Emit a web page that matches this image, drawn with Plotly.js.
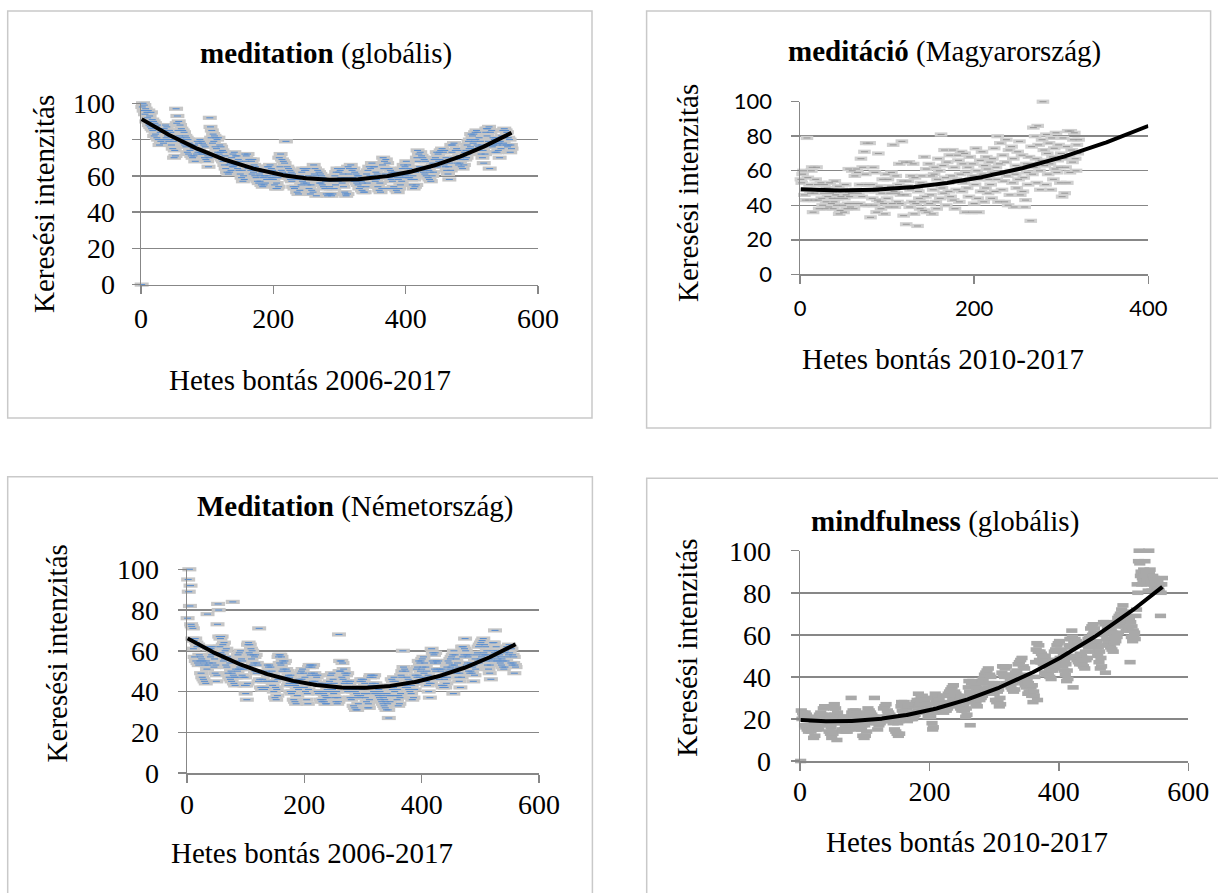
<!DOCTYPE html>
<html>
<head>
<meta charset="utf-8">
<script src="https://cdn.plot.ly/plotly-3.0.1.min.js"></script>
<style>
html,body{margin:0;padding:0;background:#ffffff;}
#chart{width:1218px;height:893px;}
</style>
</head>
<body>
<div id="chart"></div>
<script>
// ---------------- DATA (weekly search intensity, week index = position + 1) ----------------
const meditationGlobal = [
0,98,100,96,99,94,97,90,95,92, 96,88,93,87,95,86,91,85, 90,82,89,83,87,81,88,80, 86,77,84,79,85,80,84,78,
86,80,88,81,87,82,85,79, 85,80,84,77,82,75, 79,70,74,71,
97,89,93,85,90,82,88,81, 86,80,85,78,84,77,82,76, 81,73,80,72,78,74,77,71, 76,70,75,71,77,68,75,72,
79,73,78,74,80,73,79,72, 78,72,77,70,76,69,73,68, 71,65,70,92,
87,81,85,78,83,79,82,76, 81,75,80,73,81,72,77,73, 76,69,74,68,73,66,71,64, 69,62,68,61,66,62,67,63,
70,65,72,65,73,66,71,66, 71,64,69,63,68,61, 66,59,63,57,60,58,
72,68,71,65,72,64,69,65, 69,63,68,61,69,62,66,60, 65,59,64,57,64,56,61,57, 60,55,62,54,59,55,60,56,
63,58,65,60,65,58,66,59, 64,59,63,58,62,55, 60,53,56,53,59,54,
70,65,72,63,69,62,68,61, 67,60,79,61,65,60,64,59, 63,58,62,57,61,54,60,53, 58,54,59,51,58,50,59,52,
60,55,62,57,64,56,63,59, 63,56,64,55,60,53, 58,50,55,52,59,51,
66,61,64,60,49,58,63,58, 62,56,61,56,60,55,59,54, 58,53,57,50,58,49,57,50, 54,50,53,49,57,50,58,53,
60,55,62,57,64,57,62,58, 63,59,64,56,61,54, 59,51,50,49,58,50,
65,61,64,59,66,58,63,59, 64,57,62,57,61,56,60,55, 60,53,58,54,57,52,56,51, 58,51,59,54,61,56,63,58,
65,60,64,59,67,60,65,58, 65,57,62,58,61,54, 59,52,56,51,60,53,
66,70,64,68,61,69,60,67, 59,53,64,59,63,58,62,57, 61,54,62,53,60,52,59,51, 58,53,60,55,62,57,64,59,
66,61,65,60,68,61,66,59, 64,59,63,58,62,55, 60,53,58,54,62,55,
70,74,68,72,65,73,64,71, 63,70,62,69,61,68,60,65, 64,59,63,58,62,57,65,60, 67,62,69,65,70,66,73,65,
72,68,73,69,74,67,75,68, 73,66,74,65,70,63, 68,61,65,58,67,63,
77,73,77,70,78,69,74,70, 75,67,74,66,71,67,70,65, 69,64,71,66,73,69,74,70, 77,72,79,75,80,76,83,75,
82,78,83,79,84,80,85,77, 84,76,81,74,79,72, 77,70,74,67,76,72,
84,86,82,86,79,87,64,84, 77,85,76,81,77,80,73,81, 78,73,77,74,78,70,79,75, 82,77,85,78,86,81,85,77,
84,76,81,77,80,73,77,75
];

const meditacioHungary = [
55,53,58,60,46,43,49,79,56,43,52,47,60,62,36,43,47,55,62,52,
43,38,48,53,44,40,47,52,38,42,50,45,39,53,47,41,44,38,42,54,
46,40,44,51,35,37,45,49,40,36,44,52,46,38,41,61,45,39,47,60,
41,38,57,49,61,59,47,41,52,67,45,62,40,71,58,76,52,48,40,76,
33,52,44,62,40,59,48,36,43,70,51,42,38,47,55,41,35,49,58,44,
55,39,47,51,59,41,75,48,39,57,47,42,52,64,41,46,77,54,34,65,
46,29,51,54,65,39,49,57,42,64,35,56,41,50,28,48,44,38,53,57,
42,37,68,45,61,36,52,64,41,46,57,35,49,58,62,42,38,55,67,60,
44,81,50,63,47,72,56,40,65,53,48,69,45,57,72,43,62,38,55,49,
69,66,42,58,71,48,64,53,70,36,59,50,62,45,68,55,36,64,57,41,
52,73,60,44,36,55,66,48,71,58,42,63,50,68,61,47,55,65,52,44,
67,59,73,48,62,55,80,42,64,76,58,49,69,54,42,65,78,57,40,72,
46,60,74,53,67,39,58,63,50,71,55,77,46,61,69,48,56,39,43,64,
59,52,68,64,31,74,58,85,62,80,67,53,86,75,60,49,66,78,100,72,
63,52,81,70,58,76,64,49,79,68,55,73,61,82,59,66,75,62,53,70,
45,79,67,47,62,74,53,83,69,59,83,72,65,78,82,67,60,75,70,78
];

const meditationGermany = [
76,95,89,100,82,92,73,72, 66,71,61,65,57,66,55,64, 62,54,63,53,58,55,57,49, 56,47,55,46,54,45,53,44,
55,51,78,53,61,54,62,57, 61,58,62,54,59,52,56,49, 53,45,48,73,
83,80,67,62,66,59,67,58, 63,55,64,56,60,53,61,52, 57,49,56,47,54,46,50,45, 49,84,48,44,47,43,51,47,
55,50,58,51,59,52,60,51, 56,48,55,47,51,43,47,39, 43,36,44,63,
64,59,63,58,61,56,60,53, 58,54,57,50,58,49,54,50, 53,45,71,46,50,42,49,41, 46,42,45,41,49,42,50,45,
53,48,52,49,53,48,52,45, 50,43,48,40,45,37, 42,36,41,38,46,57,
58,54,58,53,57,50,55,51, 54,47,55,46,51,47,50,43, 48,44,47,40,48,39,44,40, 43,36,44,35,43,34,42,38,
45,41,46,42,49,45,50,46, 51,44,49,42,47,40, 44,36,39,34,41,52,
53,48,53,49,52,45,53,44, 49,45,48,44,47,40,48,39, 44,40,43,36,44,35,40,36, 39,35,38,34,37,34,41,37,
44,40,45,41,48,40,49,41, 46,39,44,37,42,35, 40,34,37,35,68,50,
55,50,55,47,54,46,51,44, 49,45,48,41,49,40,45,41, 44,37,45,36,41,37,40,33, 41,32,40,31,39,31,38,34,
42,37,45,38,46,41,45,42, 46,39,44,37,42,35, 39,32,34,32,36,47,
48,43,48,44,47,40,48,39, 44,40,43,39,42,38,41,37, 40,36,39,35,38,34,37,33, 36,32,35,31,39,34,31,27,
38,35,43,38,46,41,45,42, 47,40,45,38,43,36, 41,33,38,34,37,39,
48,47,50,60,52,43,51,42, 50,43,47,42,46,41,45,40, 44,39,43,36,44,37,45,41, 48,44,51,47,52,48,55,47,
54,50,55,51,56,52,57,49, 54,47,52,45,50,43, 48,40,44,37,47,44,
61,55,59,54,58,51,59,50, 55,51,54,47,55,46,51,47, 50,43,51,42,47,43,46,42, 49,44,52,47,55,50,54,51,
56,52,57,53,58,39,60,53, 58,51,56,49,54,47, 52,45,49,42,51,47,
62,57,62,58,61,66,60,53, 58,54,57,50,58,49,54,50, 53,49,52,45,53,48,56,51, 58,54,59,55,62,54,63,56,
64,57,65,58,66,59,63,58, 62,55,60,53,58,51, 56,49,53,46,56,55,
64,60,64,59,70,57,62,55, 60,56,59,55,58,54,57,53, 56,52,55,51,59,52,60,55, 62,57,61,58,63,59,62,54,
61,53,58,54,57,49,53,52
];

const mindfulnessGlobal = [
0,24,20,23,21,22,17,23, 16,22,15,21,14,20,15,17, 14,16,15,17,11,18,12,17, 15,18,16,21,15,22,17,23,
20,22,19,25,20,26,19,22, 17,20,18,19,14,20,13,16, 11,14,13,25,
27,22,25,20,10,23,18,21, 19,20,18,21,15,20,14,21, 15,17,14,16,14,20,15,21, 18,20,30,23,21,24,22,23,
18,24,17,23,16,22,15,21, 16,18,15,17,12,18,11,17, 12,19,14,23,
25,22,24,21,23,20,22,19, 21,19,30,18,20,18,21,15, 20,17,19,18,20,19,21,20, 25,19,26,20,27,21,24,22,
23,21,22,20,21,19,20,18, 21,15,20,14,19,13, 18,12,19,13,20,26,
28,24,27,22,28,21,26,20, 25,19,26,20,22,21,23,20, 22,20,26,21,27,22,28,23, 29,24,32,26,29,27,30,28,
31,25,30,24,29,23,26,24, 27,21,24,22,23,21, 24,18,15,16,23,30,
32,28,31,27,30,26,29,25, 28,25,27,24,31,23,26,24, 27,24,31,25,32,26,33,27, 34,28,35,29,36,30,33,29,
32,28,31,27,30,26,29,25, 31,24,28,25,27,24, 28,21,25,22,29,35,
38,33,17,32,37,30,38,29, 37,28,36,27,35,26,34,30, 33,29,37,30,38,31,39,34, 41,33,42,34,43,35,44,37,
41,33,40,32,37,33,36,32, 37,29,36,28,33,29, 34,26,30,27,36,42,
45,41,45,40,44,37,45,36, 41,37,40,36,39,35,38,34, 37,33,41,34,42,38,43,39, 46,38,47,39,48,40,49,41,
45,37,44,36,40,35,39,32, 37,33,36,32,35,31, 36,28,33,31,40,47,
53,56,29,52,55,48,52,47, 51,47,50,46,49,42,50,41, 46,42,45,41,44,40,43,39, 47,43,48,44,52,45,53,48,
55,47,56,48,57,49,53,48, 52,45,50,43,48,41, 46,38,43,39,49,55,
58,54,58,62,59,35,57,50, 58,49,57,48,56,47,55,46, 51,47,50,46,49,45,48,44, 52,48,56,49,58,54,59,55,
63,56,64,60,65,61,63,55, 60,52,57,50,54,47, 52,44,49,45,55,60,
66,61,65,42,66,58,63,56, 64,55,63,54,62,53,61,52, 60,56,64,57,66,59,68,61, 69,65,70,67,72,69,74,67,
71,64,69,62,67,63,66,62, 67,47,66,59,64,57, 62,59,61,58,69,72,
84,80,95,100,94,88,90,84, 87,85,91,89,95,88,90,84, 86,81,100,90,91,85,87,81, 88,84,87,83,85,86,83,82,
86,82,81,84,69,80,84,87
];

const xTicks600 = [0, 200, 400, 600];
const xTicks400 = [0, 200, 400];
const yTicks = [0, 20, 40, 60, 80, 100];

const panelTitles = [
  '<b>meditation</b> (globális)',
  '<b>meditáció</b> (Magyarország)',
  '<b>Meditation</b> (Németország)',
  '<b>mindfulness</b> (globális)'
];
const yAxisTitle = 'Keresési intenzitás';
const xAxisTitles = ['Hetes bontás 2006-2017', 'Hetes bontás 2010-2017', 'Hetes bontás 2006-2017', 'Hetes bontás 2010-2017'];
const hungaryTrendForecastTo = 400;

// ---------------- helpers ----------------
const W = 1218, H = 893;
const px = v => v / W;
const py = v => 1 - v / H;

function weekIndex(arr) { return arr.map((_, i) => i + 1); }

// least squares 2nd-order polynomial trendline (as Excel does)
function quadFit(xs, ys) {
  let s0 = 0, s1 = 0, s2 = 0, s3 = 0, s4 = 0, t0 = 0, t1 = 0, t2 = 0;
  for (let i = 0; i < xs.length; i++) {
    const x = xs[i], y = ys[i], x2 = x * x;
    s0 += 1; s1 += x; s2 += x2; s3 += x2 * x; s4 += x2 * x2;
    t0 += y; t1 += x * y; t2 += x2 * y;
  }
  const M = [[s0, s1, s2], [s1, s2, s3], [s2, s3, s4]];
  const det3 = m => m[0][0]*(m[1][1]*m[2][2]-m[1][2]*m[2][1]) - m[0][1]*(m[1][0]*m[2][2]-m[1][2]*m[2][0]) + m[0][2]*(m[1][0]*m[2][1]-m[1][1]*m[2][0]);
  const D = det3(M);
  const T = [t0, t1, t2];
  const coef = [0, 1, 2].map(c => det3(M.map((row, r) => row.map((v, k) => (k === c ? T[r] : v)))) / D);
  return x => coef[0] + coef[1] * x + coef[2] * x * x;
}

function trendTrace(xs, ys, xEnd, xa, ya) {
  const f = quadFit(xs, ys);
  const tx = [], ty = [];
  for (let x = xs[0]; x <= xEnd; x += 1) { tx.push(x); ty.push(f(x)); }
  return { x: tx, y: ty, xaxis: xa, yaxis: ya, mode: 'lines', type: 'scatter',
           line: { color: '#000000', width: 4 }, hoverinfo: 'skip', cliponaxis: false };
}

function markerTraces(xs, ys, xa, ya, style) {
  const out = [{
    x: xs, y: ys, xaxis: xa, yaxis: ya, type: 'scatter', mode: 'markers', cliponaxis: false,
    marker: { symbol: 'line-ew', size: style.size, line: { width: style.width, color: style.color } },
    hoverinfo: 'skip'
  }];
  if (style.inner) {
    out.push({
      x: xs, y: ys, xaxis: xa, yaxis: ya, type: 'scatter', mode: 'markers', cliponaxis: false,
      marker: { symbol: 'line-ew', size: style.inner.size, line: { width: style.inner.width, color: style.inner.color } },
      hoverinfo: 'skip'
    });
  }
  return out;
}

// ---------------- traces ----------------
const x1 = weekIndex(meditationGlobal);
const x2 = weekIndex(meditacioHungary);
const x3 = weekIndex(meditationGermany);
const x4 = weekIndex(mindfulnessGlobal);

const blueDash = { size: 10, width: 4.2, color: '#c6c6c6', inner: { size: 5, width: 1.1, color: '#5b8fd0' } };
const grayDash = { size: 9, width: 4.2, color: '#d0d0d0', inner: { size: 5, width: 1.1, color: '#9a9a9a' } };
const grayBlob = { size: 8, width: 4.6, color: '#a9a9a9' };

const data = [].concat(
  markerTraces(x1, meditationGlobal, 'x', 'y', blueDash),
  [trendTrace(x1, meditationGlobal, x1[x1.length - 1], 'x', 'y')],
  markerTraces(x2, meditacioHungary, 'x2', 'y2', grayDash),
  [trendTrace(x2, meditacioHungary, hungaryTrendForecastTo, 'x2', 'y2')],
  markerTraces(x3, meditationGermany, 'x3', 'y3', blueDash),
  [trendTrace(x3, meditationGermany, x3[x3.length - 1], 'x3', 'y3')],
  markerTraces(x4, mindfulnessGlobal, 'x4', 'y4', grayBlob),
  [trendTrace(x4, mindfulnessGlobal, x4[x4.length - 1], 'x4', 'y4')]
);

// ---------------- layout ----------------
const AX = '#878787';
const serif = 'Liberation Serif, Times New Roman, serif';
const sans = 'Lato, Carlito, Calibri, sans-serif';

function xAxis(domain, range, ticks, anchor, font, standoff) {
  return { domain, range, tickvals: ticks, ticktext: ticks.map(String), anchor,
    ticks: 'outside', ticklen: 8, tickwidth: 1.5, tickcolor: AX,
    showline: true, linecolor: AX, linewidth: 1.5, showgrid: false, zeroline: false,
    tickfont: font, ticklabelstandoff: standoff, fixedrange: true };
}
function yAxis(domain, anchor, font, standoff) {
  return { domain, range: [0, 100], tickvals: yTicks, ticktext: yTicks.map(String), anchor,
    ticks: 'outside', ticklen: 8, tickwidth: 1.5, tickcolor: AX,
    showline: true, linecolor: AX, linewidth: 1.5, showgrid: true, gridcolor: AX, gridwidth: 1.5,
    zeroline: false, tickfont: font, ticklabelstandoff: standoff, fixedrange: true };
}

const serifTick = { family: serif, size: 28, color: '#000' };
const sansTick = { family: sans, size: 22, color: '#000' };

function ann(text, x, y, rot, size) {
  return { text, x: px(x), y: py(y), xref: 'paper', yref: 'paper', showarrow: false,
           xanchor: 'center', yanchor: 'middle', textangle: rot || 0,
           font: { family: serif, size: size || 29, color: '#000' } };
}

function border(x0, y0, x1, y1) {
  return { type: 'rect', xref: 'paper', yref: 'paper', x0: px(x0), x1: px(x1), y0: py(y1), y1: py(y0),
           line: { color: '#c9c9c9', width: 1.5 }, fillcolor: 'rgba(0,0,0,0)', layer: 'below' };
}

const layout = {
  width: W, height: H, margin: { l: 0, r: 0, t: 0, b: 0 },
  paper_bgcolor: '#ffffff', plot_bgcolor: 'rgba(0,0,0,0)', showlegend: false,
  xaxis:  xAxis([px(141), px(538)], [0, 600], xTicks600, 'y', serifTick, 0),
  yaxis:  yAxis([py(284.6), py(103.3)], 'x', serifTick, 11),
  xaxis2: xAxis([px(800), px(1148.3)], [0, 400], xTicks400, 'y2', sansTick, 6),
  yaxis2: yAxis([py(274.3), py(101.7)], 'x2', sansTick, 14),
  xaxis3: xAxis([px(187), px(539)], [0, 600], xTicks600, 'y3', serifTick, -2),
  yaxis3: yAxis([py(773), py(569.3)], 'x3', serifTick, 13),
  xaxis4: xAxis([px(800), px(1188.3)], [0, 600], xTicks600, 'y4', serifTick, -3),
  yaxis4: yAxis([py(761), py(550.7)], 'x4', serifTick, 14),
  shapes: [
    border(7.7, 11, 592, 418),
    border(646.6, 11, 1210.6, 428),
    border(7.7, 476.7, 592.4, 905),
    border(646.7, 478.3, 1230, 905)
  ],
  annotations: [
    ann(panelTitles[0], 325.8, 53),
    ann(yAxisTitle, 44, 204, -90),
    ann(xAxisTitles[0], 310, 380),
    ann(panelTitles[1], 944, 51.7),
    ann(yAxisTitle, 688, 193, -90),
    ann(xAxisTitles[1], 943, 359),
    ann(panelTitles[2], 355, 506.7),
    ann(yAxisTitle, 57.4, 653, -90),
    ann(xAxisTitles[2], 312, 853),
    ann(panelTitles[3], 945, 521.7),
    ann(yAxisTitle, 686.7, 648, -90),
    ann(xAxisTitles[3], 966.7, 841.7)
  ]
};

Plotly.newPlot('chart', data, layout, { staticPlot: true, displayModeBar: false });
</script>
</body>
</html>
